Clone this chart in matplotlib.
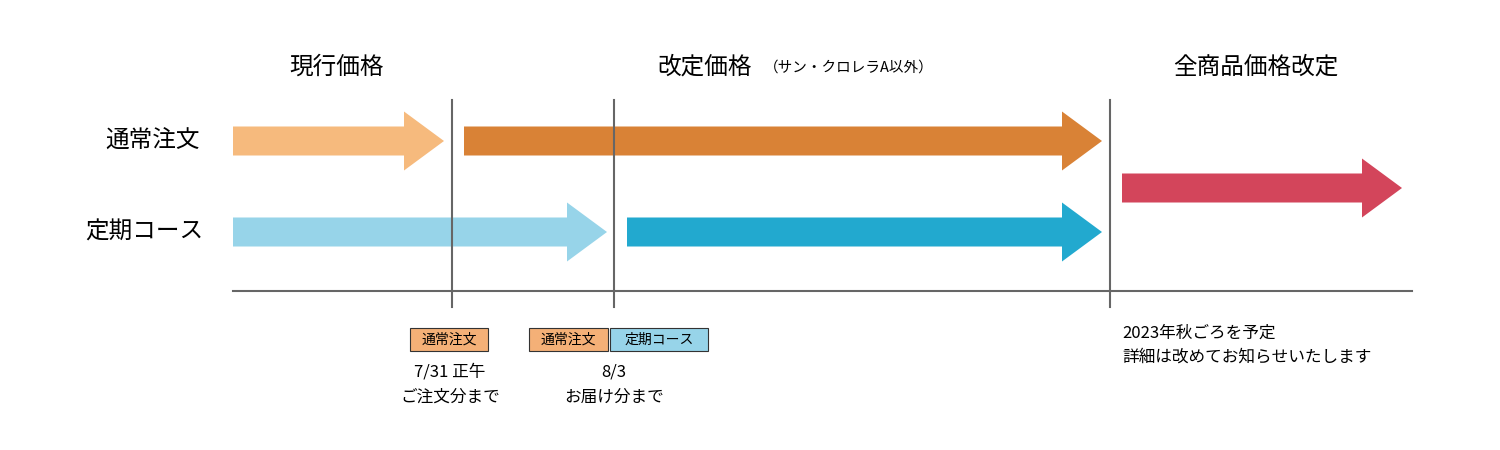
import matplotlib
matplotlib.use("Agg")
import matplotlib.pyplot as plt
from matplotlib.patches import Polygon, Rectangle

plt.rcParams["font.family"] = "Noto Sans CJK JP"

# timeline boundaries (pixel-space x positions on the timeline axis)
boundaries = [452, 614, 1110]
phase_titles = ["現行価格", "改定価格", "全商品価格改定"]
rows = ["通常注文", "定期コース"]
# segments: (row center y, start, end, color)
seg_starts = [233, 464, 233, 627, 1122]
seg_ends = [444, 1102, 607, 1102, 1402]
seg_rows = [141, 141, 232, 232, 188]
seg_colors = ["#F6BA7D", "#D98236", "#97D4E9", "#22A9CF", "#D3455B"]

fig = plt.figure(figsize=(15, 4.5), dpi=100)
ax = fig.add_axes([0, 0, 1, 1])
ax.set_xlim(0, 1500); ax.set_ylim(450, 0); ax.axis("off")

def arrow(x0, x1, yc, c):
    sh, hh, hl = 14.5, 29.5, 40
    pts = [(x0, yc - sh), (x1 - hl, yc - sh), (x1 - hl, yc - hh), (x1, yc),
           (x1 - hl, yc + hh), (x1 - hl, yc + sh), (x0, yc + sh)]
    ax.add_patch(Polygon(pts, closed=True, color=c, lw=0))

for s, e, y, c in zip(seg_starts, seg_ends, seg_rows, seg_colors):
    arrow(s, e, y, c)

for b in boundaries:
    ax.plot([b, b], [100, 307], color="#666666", lw=1.5)
ax.plot([233, 1412], [291, 291], color="#666666", lw=1.5)

ax.text(337, 67, phase_titles[0], fontsize=17, ha="center", va="center")
ax.text(705, 67, phase_titles[1], fontsize=17, ha="center", va="center")
ax.text(764, 68, "（サン・クロレラA以外）", fontsize=10.5, ha="left", va="center")
ax.text(1256, 67, phase_titles[2], fontsize=17, ha="center", va="center")

ax.text(200, 141, rows[0], fontsize=17, ha="right", va="center")
ax.text(203, 232, rows[1], fontsize=17, ha="right", va="center")

def tag(x0, x1, txt, c):
    ax.add_patch(Rectangle((x0, 328), x1 - x0, 23, facecolor=c, edgecolor="#333333", lw=0.8))
    ax.text((x0 + x1) / 2, 339.5, txt, fontsize=10, ha="center", va="center")

tag(410, 488, "通常注文", "#F4B077")
tag(529, 608, "通常注文", "#F4B077")
tag(610, 708, "定期コース", "#97D4E9")

ax.text(450, 372, "7/31 正午", fontsize=12, ha="center", va="center")
ax.text(450, 397, "ご注文分まで", fontsize=12, ha="center", va="center")
ax.text(614, 372, "8/3", fontsize=12, ha="center", va="center")
ax.text(614, 397, "お届け分まで", fontsize=12, ha="center", va="center")
ax.text(1122, 333, "2023年秋ごろを予定", fontsize=12, ha="left", va="center")
ax.text(1122, 357, "詳細は改めてお知らせいたします", fontsize=12, ha="left", va="center")

fig.savefig("out.png", dpi=100, facecolor="white")
